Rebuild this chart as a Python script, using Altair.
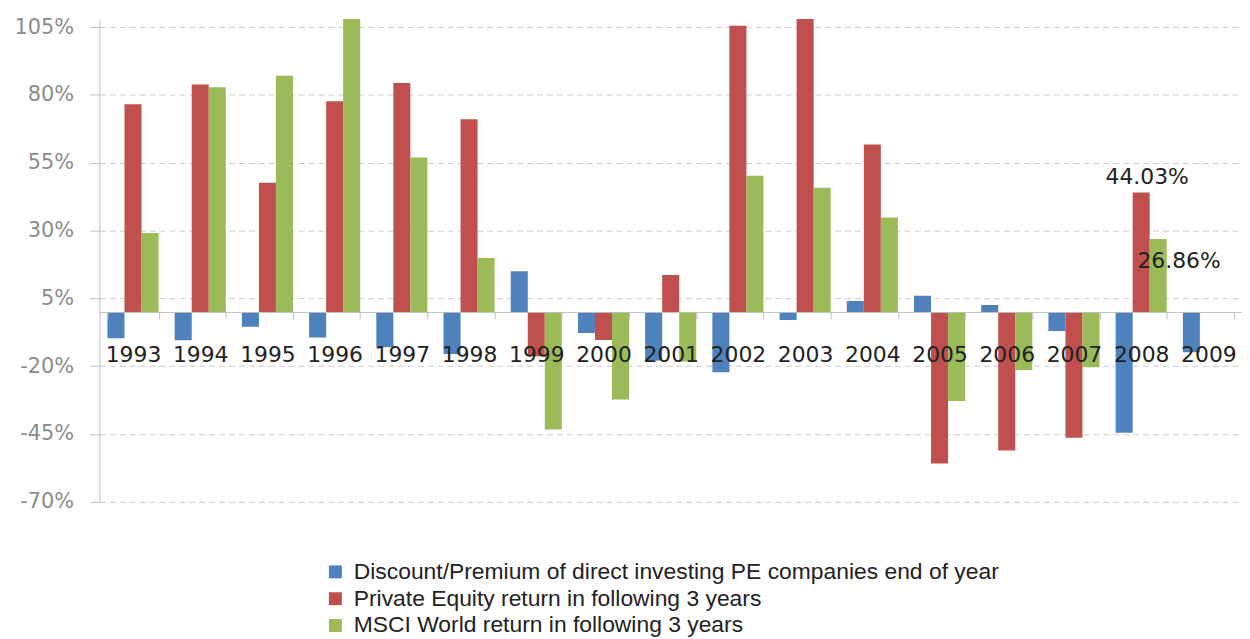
import altair as alt
import pandas as pd

years = [str(y) for y in range(1993, 2010)]
series_names = [
    "Discount/Premium of direct investing PE companies end of year",
    "Private Equity return in following 3 years",
    "MSCI World return in following 3 years",
]
colors = ["#4F81BD", "#C0504D", "#9BBB59"]

discount = [-9.7, -10.4, -5.5, -9.4, -13.0, -15.5, 15.0, -7.8, -17.9, -22.2, -3.0, 4.0, 6.0, 2.6, -7.0, -44.5, -14.9]
pe_return = [76.6, 83.8, 47.6, 77.7, 84.4, 71.0, -16.3, -10.3, 13.6, 105.5, 112.0, 61.7, -55.9, -51.1, -46.4, 44.03, None]
msci_return = [29.1, 82.8, 87.1, 112.0, 56.9, 19.9, -43.3, -32.3, -18.3, 50.2, 45.8, 34.8, -32.8, -21.4, -20.4, 26.86, None]

y_ticks = [-70, -45, -20, 5, 30, 55, 80, 105]
y_min, y_max = -70, 108

rows = []
for name, vals in zip(series_names, [discount, pe_return, msci_return]):
    for yr, v in zip(years, vals):
        if v is not None:
            rows.append({"year": yr, "series": name, "value": v})
df = pd.DataFrame(rows)

label_rows = [
    {"year": "2008", "series": series_names[1], "value": 44.03, "text": "44.03%"},
    {"year": "2008", "series": series_names[2], "value": 26.86, "text": "26.86%"},
]
ldf = pd.DataFrame(label_rows)

W, H = 1150, 486
zero_offset = -(0 - y_min) / (y_max - y_min) * H

x_scale = alt.Scale(paddingInner=0.24, paddingOuter=0.12)
y_scale = alt.Scale(domain=[y_min, y_max], nice=False, zero=False)
off_scale = alt.Scale(domain=series_names, paddingInner=0, paddingOuter=0)

bars = alt.Chart(df).mark_bar(clip=True).encode(
    x=alt.X("year:N", scale=x_scale, sort=years,
            axis=alt.Axis(title=None, labelAngle=0, offset=zero_offset, tickBand="extent",
                          domainColor="#bfbfbf", tickColor="#bfbfbf", tickSize=7,
                          labelFont="DejaVu Sans", labelFontSize=22, labelColor="#222222",
                          labelPadding=26, zindex=1, grid=False, labelBaseline="top")),
    xOffset=alt.XOffset("series:N", scale=off_scale, sort=series_names),
    y=alt.Y("value:Q", scale=y_scale,
            axis=alt.Axis(title=None, values=y_ticks, labelExpr="datum.value + '%'",
                          grid=True, gridDash=[6, 4], gridColor="#cccccc",
                          domainColor="#bfbfbf", tickColor="#bfbfbf", tickSize=10,
                          labelFont="DejaVu Sans", labelFontSize=21, labelColor="#8c8c8c",
                          labelPadding=16)),
    color=alt.Color("series:N", scale=alt.Scale(domain=series_names, range=colors),
                    legend=alt.Legend(title=None, orient="none", legendX=226, legendY=545,
                                      direction="vertical", symbolType="square",
                                      symbolSize=169, symbolStrokeWidth=0,
                                      labelFont="Liberation Sans", labelFontSize=23,
                                      labelColor="#222222", labelOffset=7, rowPadding=3,
                                      labelLimit=900)),
)

lab1 = alt.Chart(ldf[ldf["text"] == "44.03%"]).mark_text(
    font="DejaVu Sans", fontSize=22, color="#222222", baseline="bottom", dx=6, dy=-4
).encode(
    x=alt.X("year:N", scale=x_scale, sort=years),
    xOffset=alt.XOffset("series:N", scale=off_scale, sort=series_names),
    y=alt.Y("value:Q", scale=y_scale),
    text="text:N",
)
lab2 = alt.Chart(ldf[ldf["text"] == "26.86%"]).mark_text(
    font="DejaVu Sans", fontSize=22, color="#222222", baseline="middle", dx=21, dy=22
).encode(
    x=alt.X("year:N", scale=x_scale, sort=years),
    xOffset=alt.XOffset("series:N", scale=off_scale, sort=series_names),
    y=alt.Y("value:Q", scale=y_scale),
    text="text:N",
)

chart = alt.layer(bars, lab1, lab2).properties(
    width=W, height=H,
    autosize=alt.AutoSizeParams(type="none"),
    padding={"left": 92, "top": 9, "right": 0, "bottom": 136},
).configure_view(stroke=None)

chart.save("out.html", embed_options={"renderer": "svg", "actions": False})
